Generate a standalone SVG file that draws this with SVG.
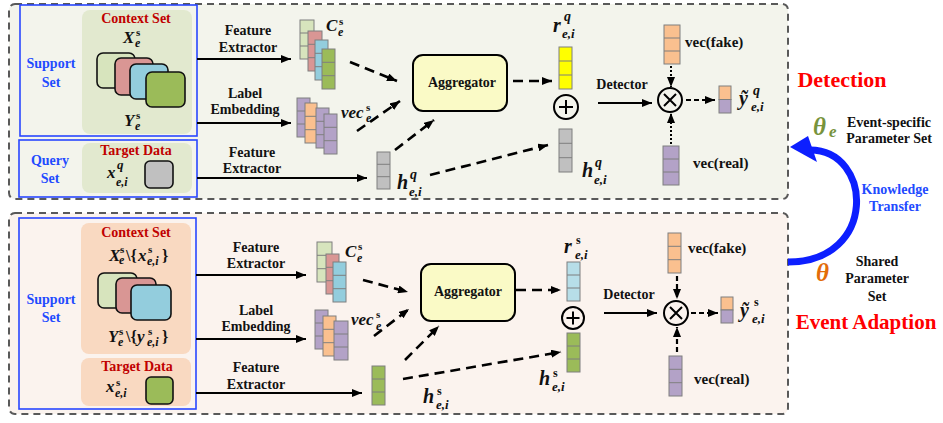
<svg xmlns="http://www.w3.org/2000/svg" width="943" height="423" viewBox="0 0 943 423">
<defs>
<style>
.panel{stroke:#595959;stroke-width:2;stroke-dasharray:7 5}
.t{font-family:"Liberation Serif","Times New Roman",serif;font-weight:bold;font-size:14px;fill:#111}
.mid{text-anchor:middle}
.blue{fill:#1f4bff}
.red{fill:#c00000}
.v15{font-size:15px}
.m{font-family:"Liberation Serif","Times New Roman",serif;font-weight:bold;font-style:italic;font-size:17px;fill:#111}
.L{font-size:20px}
.sp{font-size:11px;font-style:normal}
.sq{font-size:13px}
.sb{font-size:12px}
.L .sb{font-size:13px}
.L .sp{font-size:12px}
.L .sq{font-size:14px}
.up{font-style:normal;font-size:16px}
.cell{stroke:#7f7f7f;stroke-width:1}
.card{stroke:#111;stroke-width:1.6}
.sol{stroke:#000;stroke-width:2.2;fill:none}
.dash{stroke:#000;stroke-width:2.6;stroke-dasharray:10 6;fill:none}
.sdash{stroke:#000;stroke-width:2.2;stroke-dasharray:5 3;fill:none}
.dot{stroke:#000;stroke-width:2;stroke-dasharray:2 2;fill:none}
.op{fill:none;stroke:#000;stroke-width:2}
.agg{fill:#fafac6;stroke:#000;stroke-width:2}
</style>
<marker id="ah" viewBox="0 0 10 8" refX="10" refY="4" markerWidth="10" markerHeight="8" markerUnits="userSpaceOnUse" orient="auto">
<path d="M0,0 L10,4 L0,8 Z" fill="#000" stroke="none"/>
</marker>
</defs>

<!-- panels -->
<rect class="panel" x="9" y="4" width="779" height="195" rx="6" fill="#f3f4ec"/>
<rect class="panel" x="9" y="213" width="779" height="201" rx="6" fill="#fbf3ee"/>

<!-- ===== TOP PANEL ===== -->
<g id="top-support">
<rect x="20" y="5" width="177" height="131" fill="none" stroke="#2846ff" stroke-width="1.6"/>
<text class="t blue mid" x="51" y="68">Support</text>
<text class="t blue mid" x="51" y="87">Set</text>
<rect x="82" y="10" width="110" height="124" rx="8" fill="#e2e9cf"/>
<text class="t red mid" x="136" y="23">Context Set</text>
<text class="m"><tspan x="123" y="43">X</tspan><tspan class="sp" x="136" y="36">s</tspan><tspan class="sb" x="135" y="47">e</tspan></text>
<rect class="card" x="97" y="53" width="38" height="35" rx="6" fill="#d7e4bd"/>
<rect class="card" x="115" y="58" width="38" height="37" rx="6" fill="#d99694"/>
<rect class="card" x="130" y="64" width="38" height="35" rx="6" fill="#93cddd"/>
<rect class="card" x="146" y="72" width="39" height="35" rx="6" fill="#9bbb59"/>
<text class="m"><tspan x="124" y="126">Y</tspan><tspan class="sp" x="136" y="119">s</tspan><tspan class="sb" x="135" y="130">e</tspan></text>
</g>

<g id="top-query">
<rect x="19" y="140" width="178" height="57" fill="none" stroke="#2846ff" stroke-width="1.6"/>
<text class="t blue mid" x="50" y="165">Query</text>
<text class="t blue mid" x="50" y="183">Set</text>
<rect x="82" y="143" width="110" height="50" rx="8" fill="#e2e9cf"/>
<text class="t red mid" x="136" y="155">Target Data</text>
<text class="m"><tspan x="107" y="178">x</tspan><tspan class="sq" x="117" y="169">q</tspan><tspan class="sb" x="116" y="186">e,i</tspan></text>
<rect class="card" x="145" y="161" width="28" height="27" rx="5" fill="#c0c0c0"/>
</g>

<g id="top-ce">
<rect class="cell" x="300" y="20" width="14" height="39" fill="#d7e4bd"/><path class="cell" d="M300 33h14M300 46h14"/>
<rect class="cell" x="308" y="31" width="14" height="40" fill="#d99694"/><path class="cell" d="M308 44.3h14M308 57.7h14"/>
<rect class="cell" x="315" y="40" width="13" height="40" fill="#93cddd"/><path class="cell" d="M315 53.3h13M315 66.7h13"/>
<rect class="cell" x="322" y="49" width="13" height="40" fill="#9bbb59"/><path class="cell" d="M322 62.3h13M322 75.7h13"/>
<text class="m"><tspan x="326" y="31">C</tspan><tspan class="sp" x="339" y="25">s</tspan><tspan class="sb" x="338" y="36">e</tspan></text>
</g>

<g id="top-vec">
<rect class="cell" x="297" y="98" width="13" height="39" fill="#b3a2c7"/><path class="cell" d="M297 111h13M297 124h13"/>
<rect class="cell" x="305" y="103" width="12" height="40" fill="#fac08f"/><path class="cell" d="M305 116.3h12M305 129.7h12"/>
<rect class="cell" x="316" y="108" width="13" height="40" fill="#b3a2c7"/><path class="cell" d="M316 121.3h13M316 134.7h13"/>
<rect class="cell" x="324" y="114" width="13" height="40" fill="#b3a2c7"/><path class="cell" d="M324 127.3h13M324 140.7h13"/>
<text class="m"><tspan x="341" y="118">vec</tspan><tspan class="sp" x="366" y="111">s</tspan><tspan class="sb" x="366" y="122">e</tspan></text>
</g>

<g id="top-hq">
<rect class="cell" x="377" y="152" width="13" height="37" fill="#c0c0c0"/><path class="cell" d="M377 164.3h13M377 176.7h13"/>
<text class="m L"><tspan x="397" y="189">h</tspan><tspan class="sq" x="410" y="179">q</tspan><tspan class="sb" x="409" y="196">e,i</tspan></text>
</g>

<g id="top-aggregator">
<rect class="agg" x="413" y="55" width="94" height="56" rx="10"/>
<text class="t mid" x="462" y="87">Aggregator</text>
</g>

<g id="top-r">
<rect class="cell" x="559" y="47" width="13" height="42" fill="#ffff00"/><path class="cell" d="M559 61h13M559 75h13"/>
<text class="m L"><tspan x="553" y="32">r</tspan><tspan class="sq" x="564" y="21">q</tspan><tspan class="sb" x="562" y="38">e,i</tspan></text>
</g>

<g id="top-plus">
<circle class="op" cx="566" cy="107" r="12"/>
<path class="op" d="M559 107h14M566 100v14"/>
</g>

<g id="top-h-right">
<rect class="cell" x="559" y="129" width="13" height="43" fill="#c0c0c0"/><path class="cell" d="M559 143.3h13M559 157.7h13"/>
<text class="m L"><tspan x="582" y="177">h</tspan><tspan class="sq" x="595" y="167">q</tspan><tspan class="sb" x="594" y="184">e,i</tspan></text>
</g>

<g id="top-detector">
<text class="t mid" x="622" y="89">Detector</text>
</g>

<g id="top-times">
<circle class="op" cx="670" cy="100" r="12"/>
<path class="op" d="M664 94l12 12M676 94l-12 12"/>
</g>

<g id="top-fake">
<rect class="cell" x="664" y="25" width="16" height="39" fill="#fac08f"/><path class="cell" d="M664 38h16M664 51h16"/>
<text class="t v15" x="685" y="47">vec(fake)</text>
</g>

<g id="top-real">
<rect class="cell" x="663" y="146" width="16" height="39" fill="#b3a2c7"/><path class="cell" d="M663 159h16M663 172h16"/>
<text class="t v15" x="693" y="168">vec(real)</text>
</g>

<g id="top-output">
<rect class="cell" x="719" y="86" width="12" height="13.5" fill="#fac08f"/>
<rect class="cell" x="719" y="99.5" width="12" height="13.5" fill="#b3a2c7"/>
<text class="m L"><tspan x="739" y="105">ỹ</tspan><tspan class="sq" x="753" y="95">q</tspan><tspan class="sb" x="751" y="111">e,i</tspan></text>
</g>

<!-- ===== BOTTOM PANEL ===== -->
<g id="bot-support">
<rect x="19" y="218" width="177" height="191" fill="none" stroke="#2846ff" stroke-width="1.6"/>
<text class="t blue mid" x="51" y="304">Support</text>
<text class="t blue mid" x="51" y="322">Set</text>
<rect x="81" y="223" width="110" height="131" rx="8" fill="#f9d9c1"/>
<text class="t red mid" x="136" y="237">Context Set</text>
<text class="m"><tspan x="109" y="261">X</tspan><tspan class="sp" x="120" y="253">s</tspan><tspan class="sb" x="119" y="264">e</tspan><tspan class="up" x="126" y="261">\{</tspan><tspan x="138" y="261">x</tspan><tspan class="sp" x="148" y="253">s</tspan><tspan class="sb" x="147" y="265">e,i</tspan><tspan class="up" x="162" y="261">}</tspan></text>
<rect class="card" x="98" y="273" width="39" height="35" rx="6" fill="#d7e4bd"/>
<rect class="card" x="116" y="278" width="40" height="35" rx="6" fill="#d99694"/>
<rect class="card" x="131" y="285" width="40" height="35" rx="6" fill="#93cddd"/>
<text class="m"><tspan x="108" y="342">Y</tspan><tspan class="sp" x="119" y="335">s</tspan><tspan class="sb" x="118" y="346">e</tspan><tspan class="up" x="126" y="342">\{</tspan><tspan x="137" y="342">y</tspan><tspan class="sp" x="148" y="335">s</tspan><tspan class="sb" x="147" y="346">e,i</tspan><tspan class="up" x="162" y="342">}</tspan></text>
<rect x="81" y="358" width="110" height="48" rx="8" fill="#f9d9c1"/>
<text class="t red mid" x="137" y="371">Target Data</text>
<text class="m"><tspan x="106" y="392">x</tspan><tspan class="sp" x="116" y="386">s</tspan><tspan class="sb" x="115" y="397">e,i</tspan></text>
<rect class="card" x="146" y="377" width="27" height="27" rx="5" fill="#9bbb59"/>
</g>

<g id="bot-ce">
<rect class="cell" x="317" y="242" width="15" height="40" fill="#d7e4bd"/><path class="cell" d="M317 255.3h15M317 268.7h15"/>
<rect class="cell" x="326" y="254" width="13" height="40" fill="#d99694"/><path class="cell" d="M326 267.3h13M326 280.7h13"/>
<rect class="cell" x="333" y="262" width="13" height="40" fill="#93cddd"/><path class="cell" d="M333 275.3h13M333 288.7h13"/>
<text class="m"><tspan x="345" y="257">C</tspan><tspan class="sp" x="358" y="250">s</tspan><tspan class="sb" x="357" y="262">e</tspan></text>
</g>

<g id="bot-vec">
<rect class="cell" x="315" y="310" width="13" height="39" fill="#b3a2c7"/><path class="cell" d="M315 323h13M315 336h13"/>
<rect class="cell" x="323" y="316" width="13" height="40" fill="#fac08f"/><path class="cell" d="M323 329.3h13M323 342.7h13"/>
<rect class="cell" x="334" y="321" width="14" height="39" fill="#b3a2c7"/><path class="cell" d="M334 334h14M334 347h14"/>
<text class="m"><tspan x="351" y="325">vec</tspan><tspan class="sp" x="376" y="318">s</tspan><tspan class="sb" x="376" y="330">e</tspan></text>
</g>

<g id="bot-hs">
<rect class="cell" x="372" y="366" width="13" height="39" fill="#9bbb59"/><path class="cell" d="M372 379h13M372 392h13"/>
<text class="m L"><tspan x="423" y="403">h</tspan><tspan class="sp" x="437" y="395">s</tspan><tspan class="sb" x="436" y="409">e,i</tspan></text>
</g>

<g id="bot-aggregator">
<rect class="agg" x="421" y="264" width="94" height="57" rx="10"/>
<text class="t mid" x="468" y="296">Aggregator</text>
</g>

<g id="bot-r">
<rect class="cell" x="567" y="262" width="13" height="39" fill="#b7dee8"/><path class="cell" d="M567 275h13M567 288h13"/>
<text class="m L"><tspan x="564" y="253">r</tspan><tspan class="sp" x="576" y="244">s</tspan><tspan class="sb" x="575" y="259">e,i</tspan></text>
</g>

<g id="bot-plus">
<circle class="op" cx="573" cy="318" r="11"/>
<path class="op" d="M566.5 318h13M573 311.5v13"/>
</g>

<g id="bot-h-right">
<rect class="cell" x="567" y="333" width="13" height="39" fill="#9bbb59"/><path class="cell" d="M567 346h13M567 359h13"/>
<text class="m L"><tspan x="539" y="385">h</tspan><tspan class="sp" x="553" y="377">s</tspan><tspan class="sb" x="552" y="391">e,i</tspan></text>
</g>

<g id="bot-detector">
<text class="t mid" x="629" y="299">Detector</text>
</g>

<g id="bot-times">
<circle class="op" cx="676" cy="313" r="12"/>
<path class="op" d="M670 307l12 12M682 307l-12 12"/>
</g>

<g id="bot-fake">
<rect class="cell" x="668" y="233" width="13" height="40" fill="#fac08f"/><path class="cell" d="M668 246.3h13M668 259.7h13"/>
<text class="t v15" x="688" y="253">vec(fake)</text>
</g>

<g id="bot-real">
<rect class="cell" x="669" y="356" width="13" height="40" fill="#b3a2c7"/><path class="cell" d="M669 369.3h13M669 382.7h13"/>
<text class="t v15" x="694" y="384">vec(real)</text>
</g>

<g id="bot-output">
<rect class="cell" x="721" y="297" width="12" height="13" fill="#fac08f"/>
<rect class="cell" x="721" y="310" width="12" height="13" fill="#b3a2c7"/>
<text class="m L"><tspan x="740" y="317">ỹ</tspan><tspan class="sp" x="754" y="306">s</tspan><tspan class="sb" x="752" y="323">e,i</tspan></text>
</g>

<!-- ===== RIGHT SIDE ===== -->
<g id="detection-label">
<text class="t mid" x="842" y="87" style="fill:#ff0000;font-size:22px">Detection</text>
</g>
<g id="theta-e">
<text class="m" x="813" y="135" style="fill:#77933c;font-size:25px">θ<tspan x="829" y="137" style="font-size:17px">e</tspan></text>
<text class="t mid" x="889" y="127">Event-specific</text>
<text class="t mid" x="889" y="143">Parameter Set</text>
</g>
<g id="knowledge-transfer">
<text class="t blue mid" x="895" y="194">Knowledge</text>
<text class="t blue mid" x="895" y="211">Transfer</text>
</g>
<g id="theta">
<text class="m" x="816" y="281" style="fill:#e36c09;font-size:25px">θ</text>
<text class="t mid" x="877" y="266">Shared</text>
<text class="t mid" x="877" y="283">Parameter</text>
<text class="t mid" x="877" y="301">Set</text>
</g>
<g id="event-adaption-label">
<text class="t mid" x="866" y="329" style="fill:#ff0000;font-size:21px">Event Adaption</text>
</g>

<!-- ===== CONNECTORS ===== -->
<g id="connectors">
<!-- top -->
<text class="t mid" x="248" y="35">Feature</text>
<text class="t mid" x="248" y="52">Extractor</text>
<line class="sol" x1="197" y1="59" x2="291" y2="59" marker-end="url(#ah)"/>
<text class="t mid" x="245" y="98">Label</text>
<text class="t mid" x="245" y="114">Embedding</text>
<line class="sol" x1="197" y1="123" x2="291" y2="123" marker-end="url(#ah)"/>
<text class="t mid" x="252" y="157">Feature</text>
<text class="t mid" x="252" y="173">Extractor</text>
<line class="sol" x1="197" y1="178" x2="367" y2="178" marker-end="url(#ah)"/>
<line class="dash" x1="350" y1="62" x2="397" y2="81" marker-end="url(#ah)"/>
<line class="dash" x1="357" y1="131" x2="400" y2="101" marker-end="url(#ah)"/>
<line class="dash" x1="395" y1="150" x2="434" y2="120" marker-end="url(#ah)"/>
<line class="dash" x1="430" y1="175" x2="548" y2="145" marker-end="url(#ah)"/>
<line class="dash" x1="513" y1="81" x2="552" y2="81" marker-end="url(#ah)"/>
<line class="sol" x1="598" y1="103" x2="652" y2="103" marker-end="url(#ah)"/>
<line class="dot" x1="671" y1="66" x2="671" y2="87" marker-end="url(#ah)"/>
<line class="dot" x1="671" y1="144" x2="671" y2="113" marker-end="url(#ah)"/>
<line class="sdash" x1="686" y1="100" x2="715" y2="100" marker-end="url(#ah)"/>
<!-- bottom -->
<text class="t mid" x="256" y="252">Feature</text>
<text class="t mid" x="256" y="268">Extractor</text>
<line class="sol" x1="196" y1="275" x2="306" y2="275" marker-end="url(#ah)"/>
<text class="t mid" x="256" y="315">Label</text>
<text class="t mid" x="256" y="331">Embedding</text>
<line class="sol" x1="196" y1="339" x2="306" y2="339" marker-end="url(#ah)"/>
<text class="t mid" x="256" y="372">Feature</text>
<text class="t mid" x="256" y="389">Extractor</text>
<line class="sol" x1="196" y1="393" x2="362" y2="393" marker-end="url(#ah)"/>
<line class="dash" x1="363" y1="280" x2="408" y2="292" marker-end="url(#ah)"/>
<line class="dash" x1="374" y1="336" x2="409" y2="309" marker-end="url(#ah)"/>
<line class="dash" x1="405" y1="360" x2="439" y2="326" marker-end="url(#ah)"/>
<line class="dash" x1="403" y1="379" x2="561" y2="352" marker-end="url(#ah)"/>
<line class="dash" x1="516" y1="290" x2="561" y2="290" marker-end="url(#ah)"/>
<line class="sol" x1="604" y1="313" x2="657" y2="313" marker-end="url(#ah)"/>
<line class="sdash" x1="677" y1="276" x2="677" y2="299" marker-end="url(#ah)"/>
<line class="sdash" x1="677" y1="352" x2="677" y2="327" marker-end="url(#ah)"/>
<line class="sdash" x1="691" y1="313" x2="718" y2="313" marker-end="url(#ah)"/>
<!-- knowledge transfer arc -->
<path d="M788 262 C878 262 873 150 810 150" fill="none" stroke="#0d1fff" stroke-width="7"/>
<polygon points="790,147 808,136 817,162" fill="#0d1fff"/>
</g>
</svg>
